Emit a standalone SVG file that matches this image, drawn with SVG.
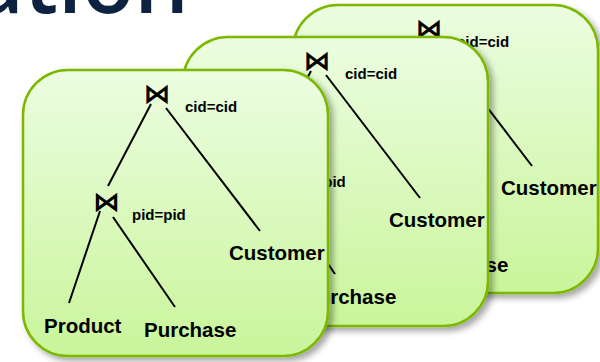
<svg xmlns="http://www.w3.org/2000/svg" width="600" height="362" viewBox="0 0 600 362">
  <defs>
    <linearGradient id="cardFill" x1="0" y1="0" x2="0" y2="1">
      <stop offset="0" stop-color="#ecfde1"/>
      <stop offset="1" stop-color="#c9f59a"/>
    </linearGradient>
    <filter id="shadow" x="-10%" y="-10%" width="125%" height="125%">
      <feDropShadow dx="4" dy="4" stdDeviation="3" flood-color="#000" flood-opacity="0.35"/>
    </filter>
    <style>
      .card { fill: url(#cardFill); stroke: #7cb800; stroke-width: 2.5; filter: url(#shadow); }
      .edge { stroke: #000; stroke-width: 2; fill: none; }
      .join { font-family: "DejaVu Sans", sans-serif; font-weight: bold; font-size: 27px; fill: #000; text-anchor: middle; }
      .cond { font-family: "Liberation Sans", Arial, sans-serif; font-weight: bold; font-size: 15px; fill: #000; }
      .rel { font-family: "Liberation Sans", Arial, sans-serif; font-weight: bold; font-size: 20.5px; fill: #000; }
      .title { font-family: "Open Sans", "Noto Sans", sans-serif; font-size: 86px; font-weight: 600; fill: #0d2240; }
    </style>
  </defs>

  <text class="title" x="189" y="13" text-anchor="end">ation</text>

  <!-- Plan 3 (back) -->
  <g id="plan3" transform="translate(272,-65)">
    <rect class="card" x="21" y="70" width="305" height="288" rx="45" ry="45"/>
    <g id="plan3-edges">
      <line class="edge" x1="151" y1="104" x2="108" y2="186"/>
      <line class="edge" x1="166" y1="108" x2="260" y2="231"/>
      <line class="edge" x1="100" y1="211" x2="69" y2="303"/>
      <line class="edge" x1="113" y1="217" x2="175" y2="307"/>
    </g>
    <g id="plan3-join-cid"><text class="join" x="157" y="103">⋈</text><text class="cond" x="185" y="112">cid=cid</text></g>
    <g id="plan3-join-pid"><text class="join" x="106.5" y="211">⋈</text><text class="cond" x="132" y="220">pid=pid</text></g>
    <g id="plan3-product"><text class="rel" x="44" y="333">Product</text></g>
    <g id="plan3-purchase"><text class="rel" x="144" y="337">Purchase</text></g>
    <g id="plan3-customer"><text class="rel" x="229" y="260">Customer</text></g>
  </g>

  <!-- Plan 2 (middle) -->
  <g id="plan2" transform="translate(160,-33)">
    <rect class="card" x="23" y="70" width="305" height="289" rx="45" ry="45"/>
    <g id="plan2-edges">
      <line class="edge" x1="151" y1="104" x2="108" y2="186"/>
      <line class="edge" x1="166" y1="108" x2="260" y2="231"/>
      <line class="edge" x1="100" y1="211" x2="69" y2="303"/>
      <line class="edge" x1="113" y1="217" x2="175" y2="307"/>
    </g>
    <g id="plan2-join-cid"><text class="join" x="157" y="103">⋈</text><text class="cond" x="185" y="112">cid=cid</text></g>
    <g id="plan2-join-pid"><text class="join" x="106.5" y="211">⋈</text><text class="cond" x="132" y="220">pid=pid</text></g>
    <g id="plan2-product"><text class="rel" x="44" y="333">Product</text></g>
    <g id="plan2-purchase"><text class="rel" x="144" y="337">Purchase</text></g>
    <g id="plan2-customer"><text class="rel" x="229" y="260">Customer</text></g>
  </g>

  <!-- Plan 1 (front) -->
  <g id="plan1">
    <rect class="card" x="23" y="70" width="305" height="286" rx="45" ry="45"/>
    <g id="plan1-edges">
      <line class="edge" x1="151" y1="104" x2="108" y2="186"/>
      <line class="edge" x1="166" y1="108" x2="260" y2="231"/>
      <line class="edge" x1="100" y1="211" x2="69" y2="303"/>
      <line class="edge" x1="113" y1="217" x2="175" y2="307"/>
    </g>
    <g id="plan1-join-cid"><text class="join" x="157" y="103">⋈</text><text class="cond" x="185" y="112">cid=cid</text></g>
    <g id="plan1-join-pid"><text class="join" x="106.5" y="211">⋈</text><text class="cond" x="132" y="220">pid=pid</text></g>
    <g id="plan1-product"><text class="rel" x="44" y="333">Product</text></g>
    <g id="plan1-purchase"><text class="rel" x="144" y="337">Purchase</text></g>
    <g id="plan1-customer"><text class="rel" x="229" y="260">Customer</text></g>
  </g>
</svg>
